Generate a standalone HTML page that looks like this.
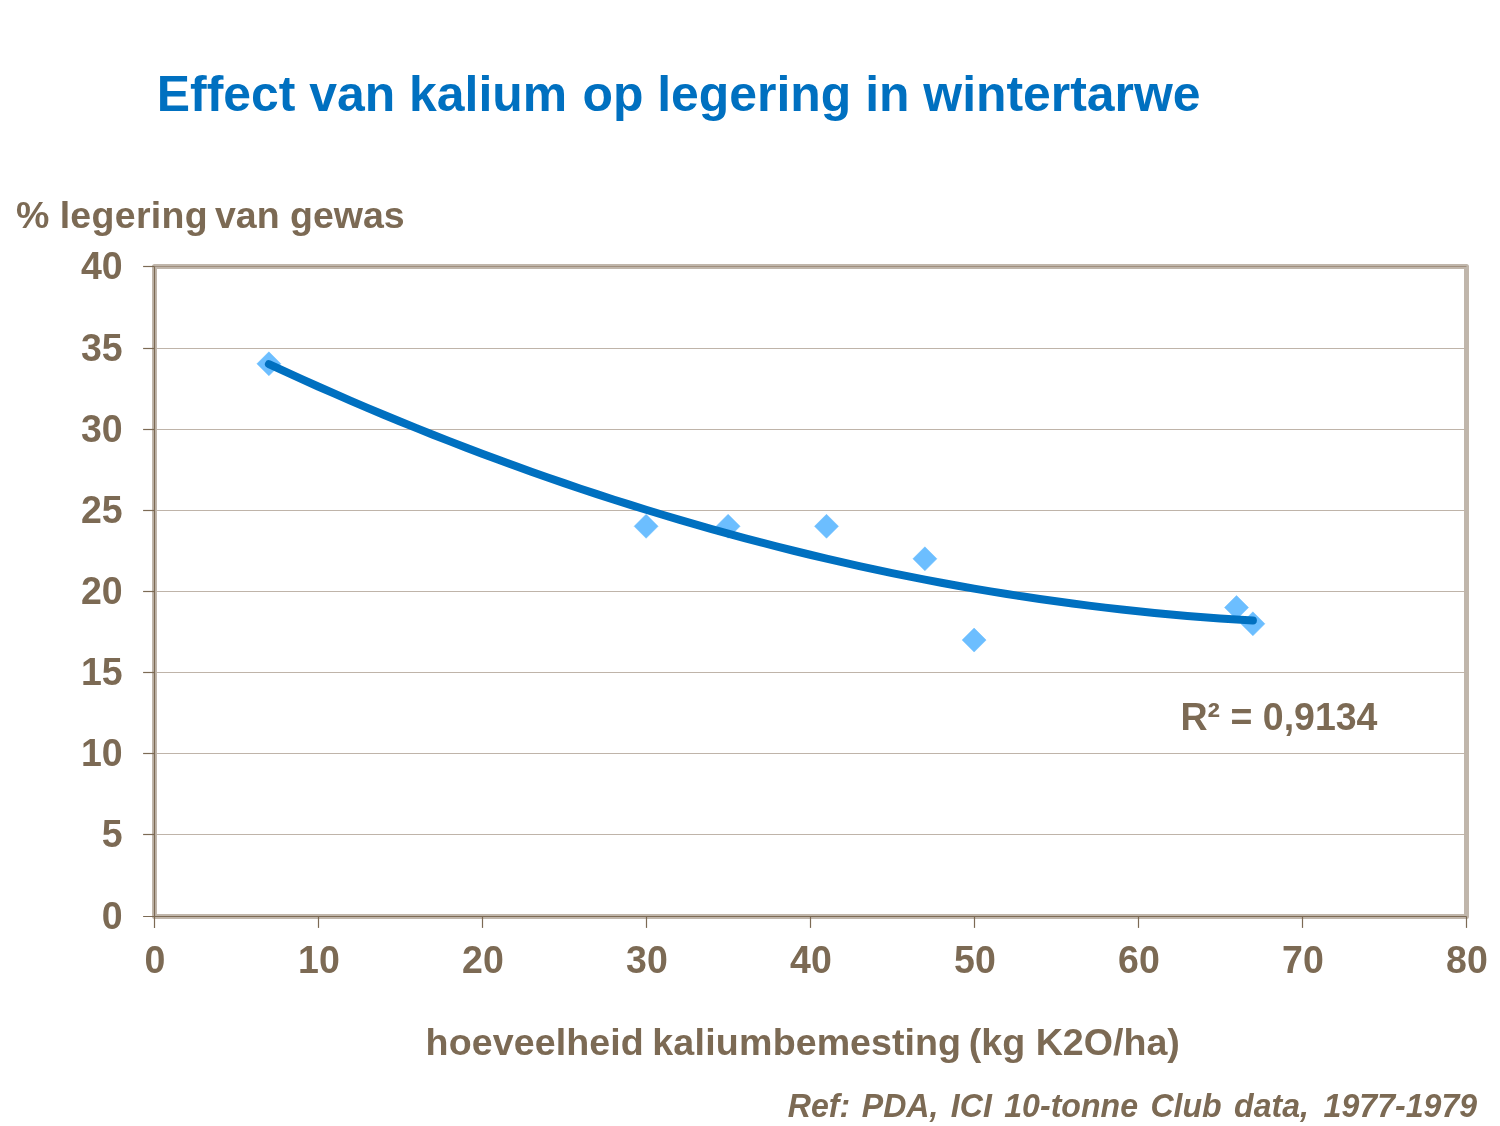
<!DOCTYPE html>
<html lang="nl"><head><meta charset="utf-8"><title>Effect van kalium op legering in wintertarwe</title>
<style>
html,body{margin:0;padding:0;background:#fff;}
body{width:1500px;height:1126px;overflow:hidden;position:relative;font-family:"Liberation Sans",sans-serif;}
svg{position:absolute;left:0;top:0;display:block;}
text{font-family:"Liberation Sans",sans-serif;font-weight:bold;}
.t{fill:#7c6a54;font-size:37.5px;}
</style></head><body>
<svg width="1500" height="1126" viewBox="0 0 1500 1126">
<rect x="0" y="0" width="1500" height="1126" fill="#ffffff"/>
<text x="156.8" y="111" fill="#0070c0" font-size="49.9px">Effect van kalium <tspan dx="1.4">op legering in wintertarwe</tspan></text>
<text class="t" x="15.9" y="228.3">% <tspan letter-spacing="0.3">legering</tspan><tspan dx="-3.4"> van gewas</tspan></text>
<rect x="154.50" y="266.50" width="1312.00" height="650.00" fill="none" stroke="#c0b6ab" stroke-width="5" stroke-linejoin="round"/>
<line x1="154.50" y1="834.50" x2="1466.50" y2="834.50" stroke="#bfb4a9" stroke-width="1.05"/>
<line x1="154.50" y1="753.50" x2="1466.50" y2="753.50" stroke="#bfb4a9" stroke-width="1.05"/>
<line x1="154.50" y1="672.50" x2="1466.50" y2="672.50" stroke="#bfb4a9" stroke-width="1.05"/>
<line x1="154.50" y1="591.50" x2="1466.50" y2="591.50" stroke="#bfb4a9" stroke-width="1.05"/>
<line x1="154.50" y1="510.50" x2="1466.50" y2="510.50" stroke="#bfb4a9" stroke-width="1.05"/>
<line x1="154.50" y1="429.50" x2="1466.50" y2="429.50" stroke="#bfb4a9" stroke-width="1.05"/>
<line x1="154.50" y1="348.50" x2="1466.50" y2="348.50" stroke="#bfb4a9" stroke-width="1.05"/>
<line x1="154.50" y1="266.50" x2="1466.50" y2="266.50" stroke="#a08f7e" stroke-width="1.05"/>
<line x1="154.50" y1="266.50" x2="154.50" y2="927.90" stroke="#7c6a54" stroke-width="1.2"/>
<line x1="143.10" y1="916.50" x2="1466.50" y2="916.50" stroke="#7c6a54" stroke-width="1.2"/>
<line x1="143.10" y1="834.50" x2="154.50" y2="834.50" stroke="#7c6a54" stroke-width="1.2"/>
<line x1="143.10" y1="753.50" x2="154.50" y2="753.50" stroke="#7c6a54" stroke-width="1.2"/>
<line x1="143.10" y1="672.50" x2="154.50" y2="672.50" stroke="#7c6a54" stroke-width="1.2"/>
<line x1="143.10" y1="591.50" x2="154.50" y2="591.50" stroke="#7c6a54" stroke-width="1.2"/>
<line x1="143.10" y1="510.50" x2="154.50" y2="510.50" stroke="#7c6a54" stroke-width="1.2"/>
<line x1="143.10" y1="429.50" x2="154.50" y2="429.50" stroke="#7c6a54" stroke-width="1.2"/>
<line x1="143.10" y1="348.50" x2="154.50" y2="348.50" stroke="#7c6a54" stroke-width="1.2"/>
<line x1="143.10" y1="266.50" x2="154.50" y2="266.50" stroke="#7c6a54" stroke-width="1.2"/>
<line x1="318.50" y1="916.50" x2="318.50" y2="927.90" stroke="#7c6a54" stroke-width="1.2"/>
<line x1="482.50" y1="916.50" x2="482.50" y2="927.90" stroke="#7c6a54" stroke-width="1.2"/>
<line x1="646.50" y1="916.50" x2="646.50" y2="927.90" stroke="#7c6a54" stroke-width="1.2"/>
<line x1="810.50" y1="916.50" x2="810.50" y2="927.90" stroke="#7c6a54" stroke-width="1.2"/>
<line x1="974.50" y1="916.50" x2="974.50" y2="927.90" stroke="#7c6a54" stroke-width="1.2"/>
<line x1="1138.50" y1="916.50" x2="1138.50" y2="927.90" stroke="#7c6a54" stroke-width="1.2"/>
<line x1="1302.50" y1="916.50" x2="1302.50" y2="927.90" stroke="#7c6a54" stroke-width="1.2"/>
<line x1="1466.50" y1="916.50" x2="1466.50" y2="927.90" stroke="#7c6a54" stroke-width="1.2"/>
<text class="t" transform="translate(122.6 929.30) scale(1 1.05)" text-anchor="end">0</text>
<text class="t" transform="translate(122.6 847.30) scale(1 1.05)" text-anchor="end">5</text>
<text class="t" transform="translate(122.6 766.30) scale(1 1.05)" text-anchor="end">10</text>
<text class="t" transform="translate(122.6 685.30) scale(1 1.05)" text-anchor="end">15</text>
<text class="t" transform="translate(122.6 604.30) scale(1 1.05)" text-anchor="end">20</text>
<text class="t" transform="translate(122.6 523.30) scale(1 1.05)" text-anchor="end">25</text>
<text class="t" transform="translate(122.6 442.30) scale(1 1.05)" text-anchor="end">30</text>
<text class="t" transform="translate(122.6 361.30) scale(1 1.05)" text-anchor="end">35</text>
<text class="t" transform="translate(122.6 279.30) scale(1 1.05)" text-anchor="end">40</text>
<text class="t" transform="translate(154.90 972.6) scale(1 1.05)" text-anchor="middle">0</text>
<text class="t" transform="translate(318.90 972.6) scale(1 1.05)" text-anchor="middle">10</text>
<text class="t" transform="translate(482.90 972.6) scale(1 1.05)" text-anchor="middle">20</text>
<text class="t" transform="translate(646.90 972.6) scale(1 1.05)" text-anchor="middle">30</text>
<text class="t" transform="translate(810.90 972.6) scale(1 1.05)" text-anchor="middle">40</text>
<text class="t" transform="translate(974.90 972.6) scale(1 1.05)" text-anchor="middle">50</text>
<text class="t" transform="translate(1138.90 972.6) scale(1 1.05)" text-anchor="middle">60</text>
<text class="t" transform="translate(1302.90 972.6) scale(1 1.05)" text-anchor="middle">70</text>
<text class="t" transform="translate(1466.90 972.6) scale(1 1.05)" text-anchor="middle">80</text>
<path d="M256.90 363.80L268.90 351.80L280.90 363.80L268.90 375.80Z" fill="#6cbeff" stroke="#6cbeff" stroke-width="0.5" stroke-linejoin="miter"/>
<path d="M634.10 526.30L646.10 514.30L658.10 526.30L646.10 538.30Z" fill="#6cbeff" stroke="#6cbeff" stroke-width="0.5" stroke-linejoin="miter"/>
<path d="M716.10 526.30L728.10 514.30L740.10 526.30L728.10 538.30Z" fill="#6cbeff" stroke="#6cbeff" stroke-width="0.5" stroke-linejoin="miter"/>
<path d="M814.50 526.30L826.50 514.30L838.50 526.30L826.50 538.30Z" fill="#6cbeff" stroke="#6cbeff" stroke-width="0.5" stroke-linejoin="miter"/>
<path d="M912.90 558.80L924.90 546.80L936.90 558.80L924.90 570.80Z" fill="#6cbeff" stroke="#6cbeff" stroke-width="0.5" stroke-linejoin="miter"/>
<path d="M962.10 640.05L974.10 628.05L986.10 640.05L974.10 652.05Z" fill="#6cbeff" stroke="#6cbeff" stroke-width="0.5" stroke-linejoin="miter"/>
<path d="M1224.50 607.55L1236.50 595.55L1248.50 607.55L1236.50 619.55Z" fill="#6cbeff" stroke="#6cbeff" stroke-width="0.5" stroke-linejoin="miter"/>
<path d="M1240.90 623.80L1252.90 611.80L1264.90 623.80L1252.90 635.80Z" fill="#6cbeff" stroke="#6cbeff" stroke-width="0.5" stroke-linejoin="miter"/>
<path d="M268.90 364.14L285.30 371.70L301.70 379.14L318.10 386.48L334.50 393.70L350.90 400.81L367.30 407.81L383.70 414.70L400.10 421.48L416.50 428.15L432.90 434.70L449.30 441.14L465.70 447.48L482.10 453.70L498.50 459.81L514.90 465.81L531.30 471.69L547.70 477.47L564.10 483.13L580.50 488.69L596.90 494.13L613.30 499.46L629.70 504.68L646.10 509.79L662.50 514.78L678.90 519.67L695.30 524.44L711.70 529.11L728.10 533.66L744.50 538.10L760.90 542.43L777.30 546.65L793.70 550.75L810.10 554.75L826.50 558.63L842.90 562.40L859.30 566.07L875.70 569.62L892.10 573.05L908.50 576.38L924.90 579.60L941.30 582.70L957.70 585.70L974.10 588.58L990.50 591.35L1006.90 594.01L1023.30 596.56L1039.70 598.99L1056.10 601.32L1072.50 603.53L1088.90 605.64L1105.30 607.63L1121.70 609.51L1138.10 611.28L1154.50 612.94L1170.90 614.48L1187.30 615.92L1203.70 617.24L1220.10 618.46L1236.50 619.56L1252.90 620.55" fill="none" stroke="#0070c0" stroke-width="8" stroke-linecap="round" stroke-linejoin="round"/>
<text class="t" transform="translate(1180.5 729.7) scale(1 1.045)">R² = 0,9134</text>
<text class="t" style="font-size:37.62px" x="424.3" y="1054.8"><tspan dx="1.3" letter-spacing="0.07">hoeveelheid </tspan><tspan dx="-2.1" letter-spacing="0.24">kalium</tspan>bemesting <tspan dx="-2.5">(kg K2O/ha)</tspan></text>
<text transform="translate(1477.1 1116.6) scale(1 1.03)" text-anchor="end" fill="#7c6a54" font-size="32.1px" font-style="italic" word-spacing="3.5">Ref: <tspan dx="-0.9">PDA, ICI 10-tonne Club data, </tspan><tspan dx="2.2">1977-1979</tspan></text>
</svg>
</body></html>
